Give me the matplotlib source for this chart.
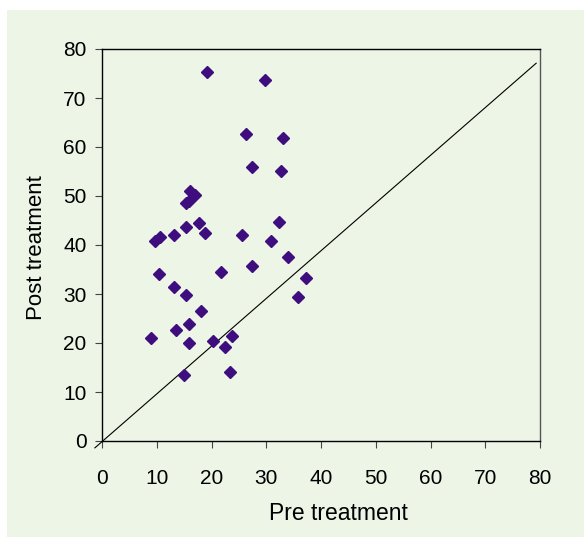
import matplotlib
matplotlib.use("Agg")
import matplotlib.pyplot as plt
from matplotlib.patches import Rectangle

plt.rcParams['font.family'] = ['Liberation Sans', 'DejaVu Sans']

pre = [19.2, 29.8, 26.3, 33.1, 27.4, 32.7, 16.0, 16.9, 15.9, 15.3,
       9.7, 10.6, 13.2, 15.3, 17.7, 18.8, 25.6, 32.3, 30.9, 34.0,
       27.4, 21.7, 10.4, 37.3, 13.2, 15.3, 35.8, 18.1, 15.9, 13.5,
       8.9, 23.7, 20.3, 15.9, 22.5, 23.4, 15.0]
post = [75.3, 73.7, 62.7, 61.8, 55.9, 55.1, 51.0, 50.3, 49.0, 48.5,
        40.8, 41.6, 42.0, 43.7, 44.5, 42.4, 42.0, 44.7, 40.8, 37.6,
        35.7, 34.5, 34.1, 33.3, 31.4, 29.8, 29.4, 26.5, 23.9, 22.7,
        21.0, 21.4, 20.4, 20.0, 19.2, 14.1, 13.5]

line_x = [-1.3, 79.3]
line_y = [-1.4, 77.1]

ticks = [0, 10, 20, 30, 40, 50, 60, 70, 80]

bg = '#EDF5E7'
fig = plt.figure(figsize=(5.84, 5.37), dpi=100)
fig.patch.set_facecolor('white')
fig.add_artist(Rectangle((7/584, -0.01), 1.0, (537-10)/537 + 0.01, transform=fig.transFigure,
                         facecolor=bg, edgecolor='none', zorder=0))

ax = fig.add_axes([102/584, 1-441/537, 438/584, 392/537])
ax.set_facecolor(bg)
ax.plot(line_x, line_y, color='black', lw=0.8, clip_on=False, zorder=2)
ax.plot(pre, post, linestyle='none', marker='D', markersize=6.2,
        color='#3F0E7E', markeredgecolor='#3F0E7E', zorder=3)

ax.set_xlim(0, 80)
ax.set_ylim(0, 80)
ax.set_xticks(ticks)
ax.set_yticks(ticks)
ax.tick_params(direction='out', length=5, width=0.8, color='#444444',
               labelsize=15)
ax.tick_params(axis='x', pad=15)
ax.tick_params(axis='y', pad=6)
for s in ['left', 'bottom', 'top']:
    ax.spines[s].set_color('black')
    ax.spines[s].set_linewidth(1.0)
ax.spines['right'].set_color('#555555')
ax.spines['right'].set_linewidth(1.0)

ax.set_xlabel('Pre treatment', fontsize=16.5)
ax.set_ylabel('Post treatment', fontsize=16)
ax.xaxis.set_label_coords((338 - 102) / 438, -(514 - 441) / 392, transform=ax.transAxes)
ax.xaxis.label.set_va('center')
ax.yaxis.set_label_coords(-(102 - 36) / 438, (441 - 248) / 392, transform=ax.transAxes)
ax.yaxis.label.set_va('center')

fig.savefig('out.png', dpi=100, facecolor=fig.get_facecolor())
